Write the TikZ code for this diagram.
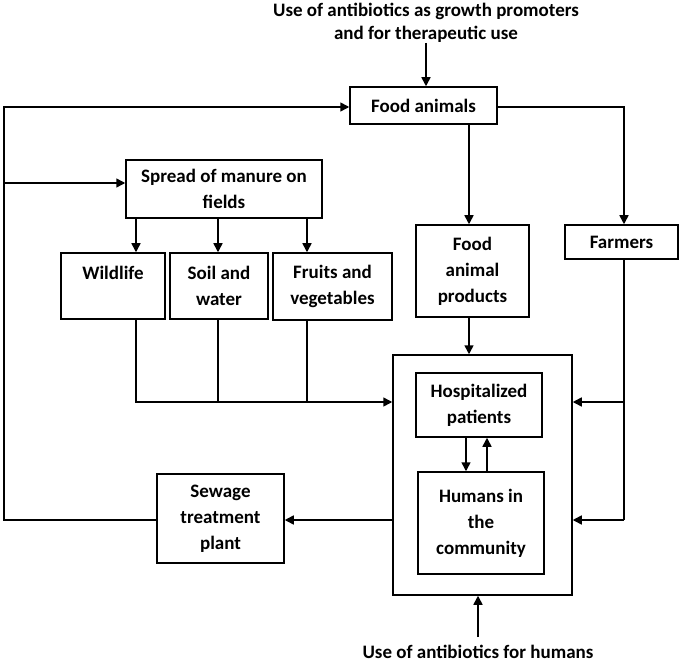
\documentclass[tikz,border=0pt]{standalone}
\usepackage{fontspec}
\setmainfont{Carlito}
\usetikzlibrary{arrows.meta}
\tikzset{
  box/.style={draw, line width=1.5pt, align=center, inner sep=0pt,
    font=\bfseries\fontsize{19}{26}\selectfont},
  lbl/.style={align=center, inner sep=0pt, font=\bfseries\fontsize{19}{23}\selectfont},
  con/.style={line width=1.5pt},
  arr/.style={line width=1.5pt, -{Triangle[length=9pt,width=9pt]}}
}
\begin{document}
\begin{tikzpicture}[x=1pt,y=-1pt]
\useasboundingbox (0,0) rectangle (680,663);
% texts
\node[lbl] (ttop) at (426,23) {Use of antibiotics as growth promoters\\and for therapeutic use};
\node[lbl] (tbot) at (478,652) {Use of antibiotics for humans};
% boxes
\node[box, minimum width=147, minimum height=37] (fa) at (423.5,105.5) {Food animals};
\node[box, minimum width=196, minimum height=58] (sp) at (224,189) {Spread of manure on\\fields};
\node[box, minimum width=104, minimum height=66] (wl) at (113,286) {Wildlife\\[0pt]~};
\node[box, minimum width=98, minimum height=66] (sw) at (219,286) {Soil and\\water};
\node[box, minimum width=119, minimum height=67] (fv) at (332.5,286.5) {Fruits and\\vegetables};
\node[box, minimum width=113, minimum height=92] (fap) at (472.5,271) {Food\\animal\\products};
\node[box, minimum width=113, minimum height=34] (fm) at (621.5,242) {Farmers};
\node[box, minimum width=179, minimum height=240] (out) at (482.5,475) {};
\node[box, minimum width=126, minimum height=64] (hp) at (479,405) {Hospitalized\\patients};
\node[box, minimum width=126, minimum height=102] (hc) at (481,523) {Humans in\\the\\community};
\node[box, minimum width=127, minimum height=89] (st) at (220.5,518.5) {Sewage\\treatment\\plant};
% coordinates
\coordinate (L1) at (4,107);
\coordinate (L2) at (4,183);
\coordinate (L3) at (4,520);
\coordinate (R1) at (624,107);
\coordinate (R2) at (624,402);
\coordinate (R3) at (624,520);
\coordinate (B1) at (136,402);
\coordinate (B2) at (218,402);
\coordinate (B3) at (307,402);
% connectors
\draw[arr] (ttop.south -| 426,0) -- (fa.north -| 426,0);
\draw[arr] (st.west |- L3) -- (L3) -- (L1) -- (L1 -| fa.west);
\draw[arr] (L2) -- (L2 -| sp.west);
\draw[arr] (fa.east |- R1) -- (R1) -- (R1 |- fm.north);
\draw[arr] (fa.south -| 469,0) -- (fap.north -| 469,0);
\draw[arr] (sp.south -| B1) -- (wl.north -| B1);
\draw[arr] (sp.south -| B2) -- (sw.north -| B2);
\draw[arr] (sp.south -| B3) -- (fv.north -| B3);
\draw[arr] (wl.south -| B1) -- (B1) -- (B1 -| out.west);
\draw[con] (sw.south -| B2) -- (B2);
\draw[con] (fv.south -| B3) -- (B3);
\draw[arr] (fap.south -| 469,0) -- (out.north -| 469,0);
\draw[con] (fm.south -| R1) -- (R3);
\draw[arr] (R2) -- (R2 -| out.east);
\draw[arr] (R3) -- (R3 -| out.east);
\draw[arr] (hp.south -| 466,0) -- (hc.north -| 466,0);
\draw[arr] (hc.north -| 487,0) -- (hp.south -| 487,0);
\draw[arr] (out.west |- L3) -- (st.east |- L3);
\draw[arr] (tbot.north -| 478,0) ++(0,-8) -- (out.south -| 478,0);
\end{tikzpicture}
\end{document}
